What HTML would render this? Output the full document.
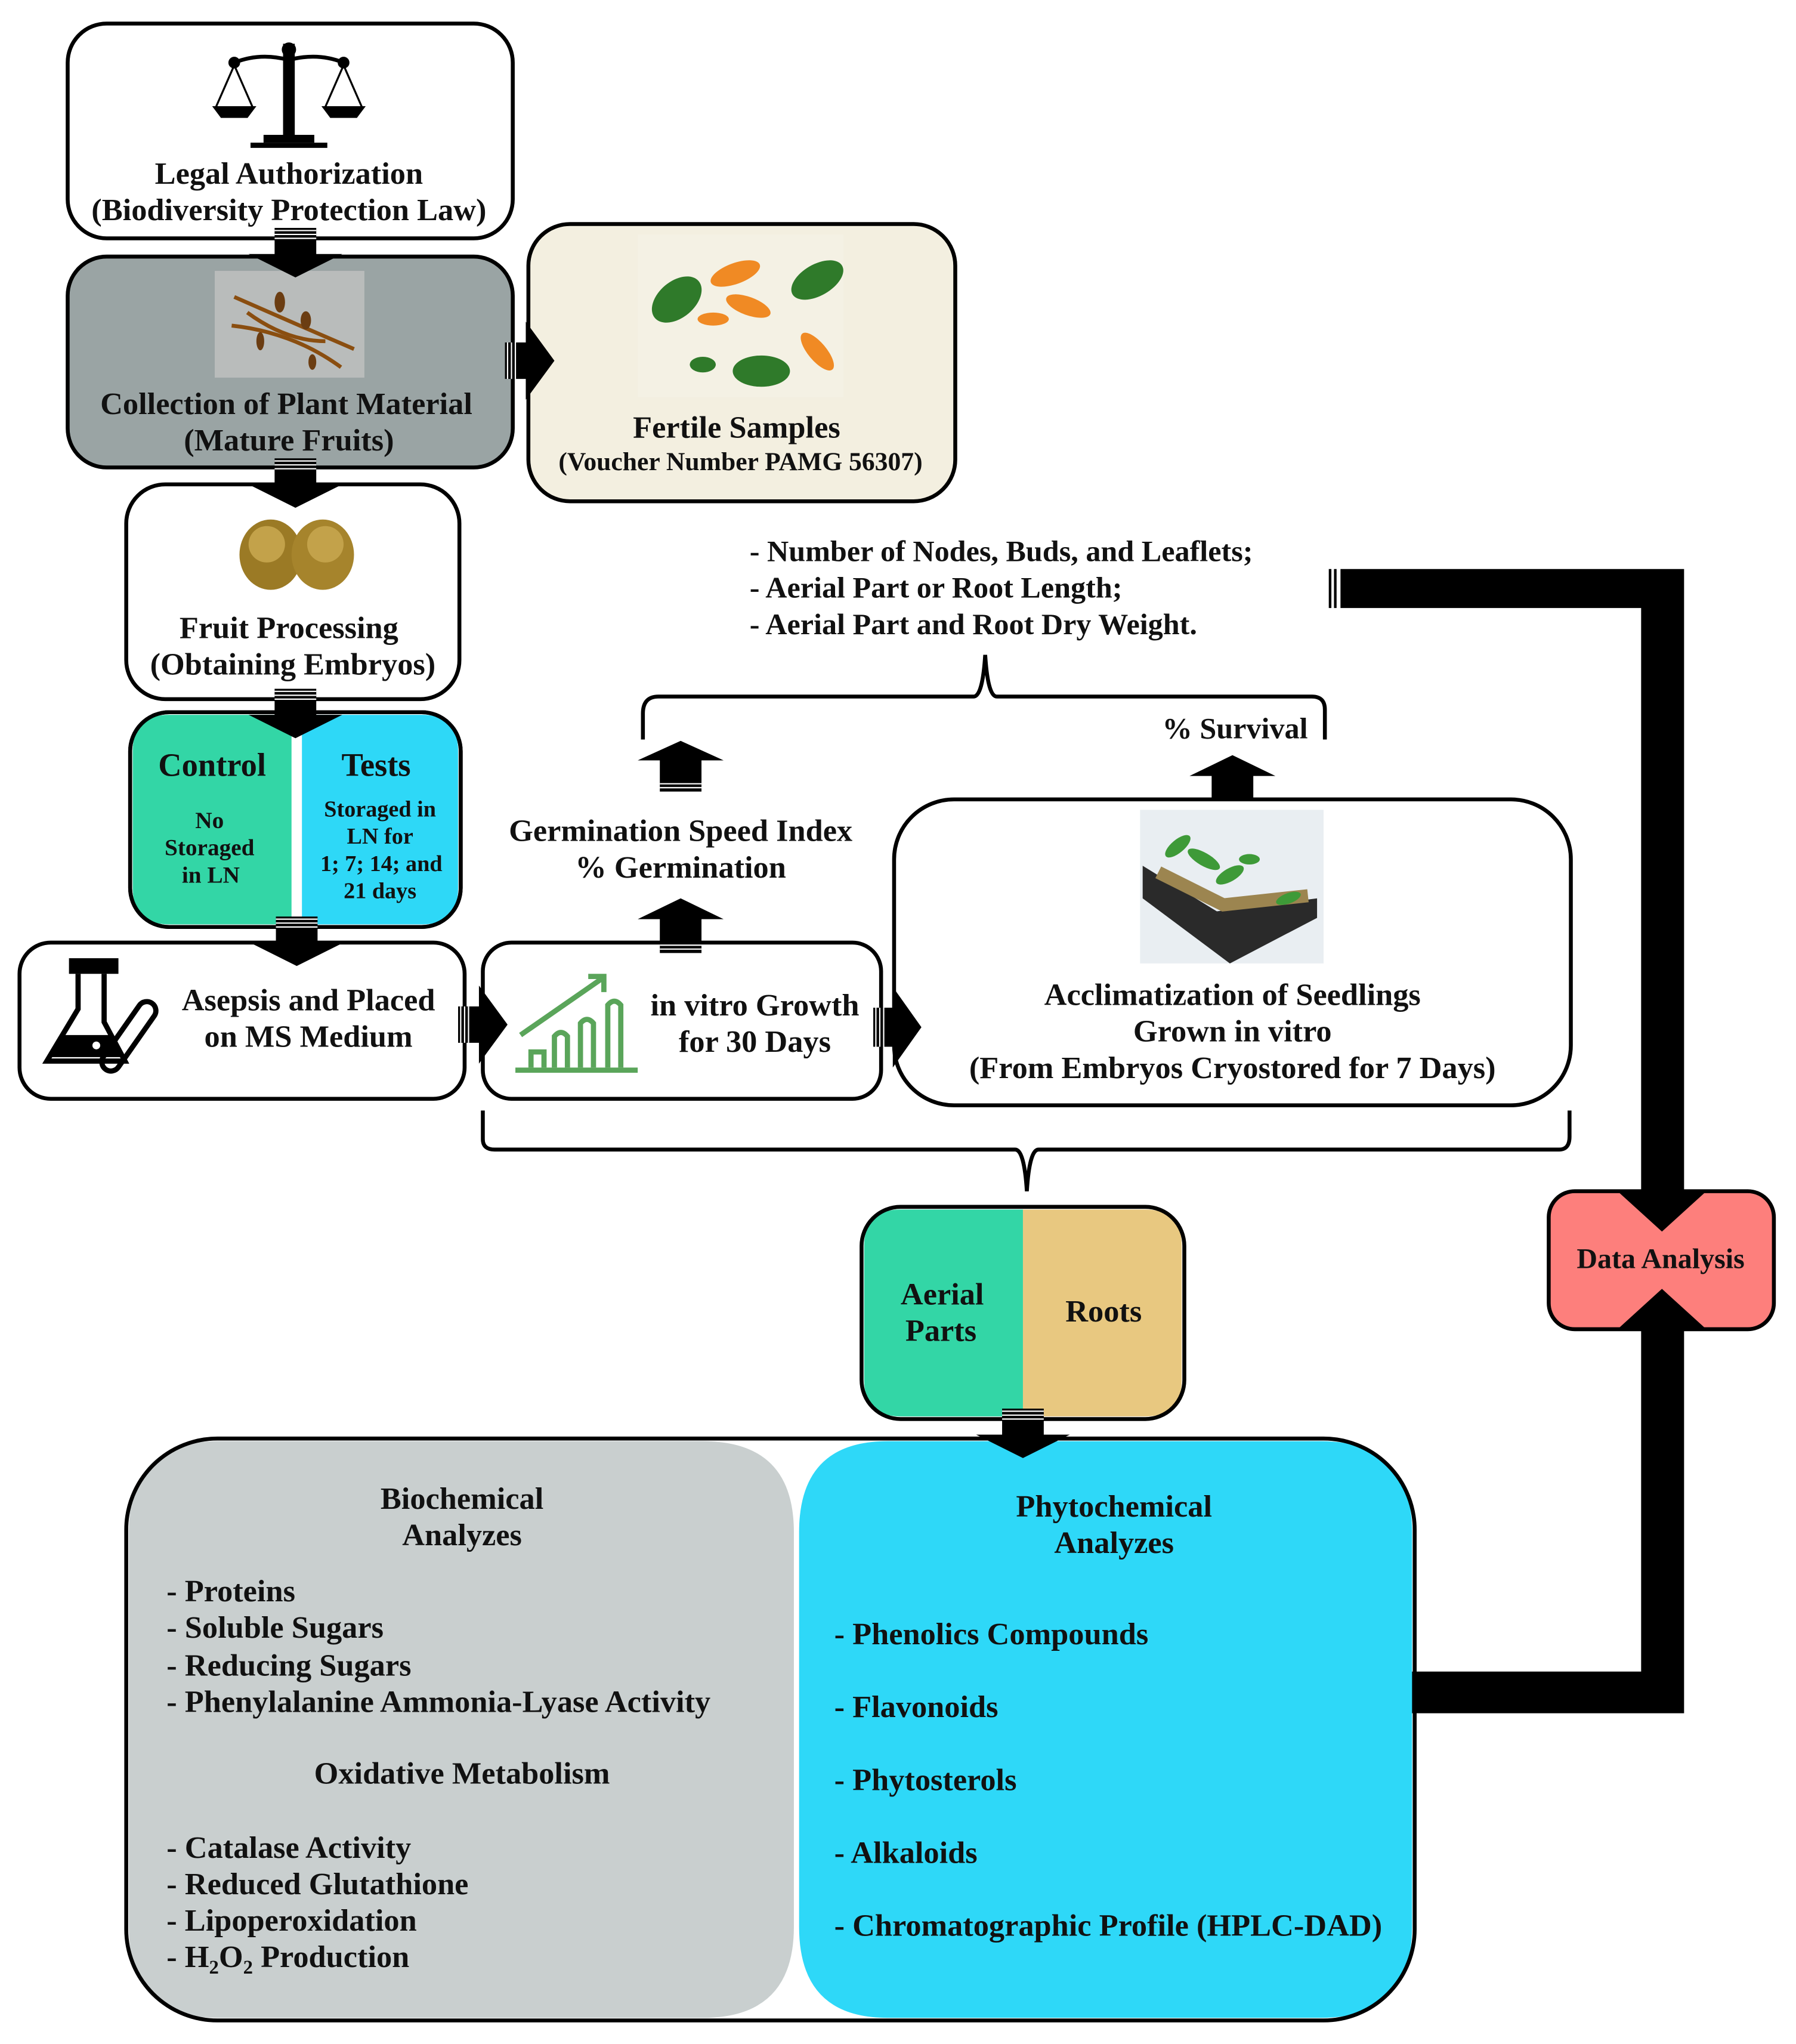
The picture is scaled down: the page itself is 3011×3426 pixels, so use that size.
<!DOCTYPE html>
<html><head><meta charset="utf-8"><style>
html,body{margin:0;padding:0;background:#fff}
svg{display:block}
text{font-family:"Liberation Serif",serif;fill:#111;font-weight:bold}
</style></head><body>
<svg width="3011" height="3426" viewBox="0 0 1380 1570" xmlns="http://www.w3.org/2000/svg">
<defs>
<g id="ad"><path d="M-16 -20 H16 V0 H36 L0 18 L-36 0 H-16 Z" fill="#000"/><path d="M-16 -18 H16 M-16 -15 H16 M-16 -12 H16" stroke="#fff" stroke-width="1"/></g>
</defs>
<rect width="1380" height="1570" fill="#fff"/>

<!-- Legal -->
<rect x="52" y="18" width="342" height="165" rx="30" fill="#fff" stroke="#000" stroke-width="3"/>
<g fill="#000" stroke="#000">
<rect x="218" y="34" width="8" height="72"/><rect x="203" y="104" width="38" height="5"/><rect x="193" y="110" width="58" height="3"/>
<circle cx="222" cy="38" r="5"/>
<path d="M180 48 Q200 40 222 46 Q244 40 264 48" fill="none" stroke-width="3"/>
<circle cx="180" cy="48" r="4"/><circle cx="264" cy="48" r="4"/>
<path d="M180 50 L166 82 M180 50 L194 82 M264 50 L250 82 M264 50 L278 82" stroke-width="1.5" fill="none"/>
<path d="M164 82 H196 L190 90 H170 Z M248 82 H280 L274 90 H254 Z"/>
</g>
<text x="222" y="141" font-size="24" text-anchor="middle">Legal Authorization</text>
<text x="222" y="169" font-size="24" text-anchor="middle">(Biodiversity Protection Law)</text>

<!-- Collection -->
<rect x="52" y="197" width="342" height="162" rx="30" fill="#9aa4a4" stroke="#000" stroke-width="3"/>
<rect x="165" y="208" width="115" height="82" fill="#b9bcbb"/>
<g fill="none" stroke="#8a4e10" stroke-width="3"><path d="M180 228 Q230 250 272 268"/><path d="M178 250 Q225 255 262 282"/><path d="M190 240 Q220 262 250 262"/></g>
<g fill="#6b3d12"><ellipse cx="215" cy="232" rx="4" ry="8"/><ellipse cx="235" cy="246" rx="4" ry="7"/><ellipse cx="200" cy="262" rx="3" ry="7"/><ellipse cx="240" cy="278" rx="3" ry="6"/></g>
<text x="220" y="318" font-size="24" text-anchor="middle">Collection of Plant Material</text>
<text x="222" y="346" font-size="24" text-anchor="middle">(Mature Fruits)</text>

<!-- Fertile -->
<rect x="406" y="172" width="328" height="213" rx="32" fill="#f3efe0" stroke="#000" stroke-width="3"/>
<rect x="490" y="180" width="158" height="125" fill="#f4f1e4"/>
<g fill="#2f7a2a"><ellipse cx="520" cy="230" rx="22" ry="14" transform="rotate(-40 520 230)"/><ellipse cx="628" cy="215" rx="22" ry="12" transform="rotate(-30 628 215)"/><ellipse cx="585" cy="285" rx="22" ry="12"/><ellipse cx="540" cy="280" rx="10" ry="6"/></g>
<g fill="#f08a24"><ellipse cx="565" cy="210" rx="20" ry="8" transform="rotate(-20 565 210)"/><ellipse cx="575" cy="235" rx="18" ry="7" transform="rotate(20 575 235)"/><ellipse cx="628" cy="270" rx="18" ry="7" transform="rotate(50 628 270)"/><ellipse cx="548" cy="245" rx="12" ry="5"/></g>
<text x="566" y="336" font-size="24" text-anchor="middle">Fertile Samples</text>
<text x="569" y="361" font-size="20" text-anchor="middle">(Voucher Number PAMG 56307)</text>

<!-- Fruit processing -->
<rect x="97" y="372" width="256" height="165" rx="30" fill="#fff" stroke="#000" stroke-width="3"/>
<ellipse cx="208" cy="426" rx="24" ry="27" fill="#9b7a25"/><ellipse cx="248" cy="426" rx="24" ry="27" fill="#a6842c"/>
<ellipse cx="205" cy="418" rx="14" ry="14" fill="#c3a24a"/><ellipse cx="250" cy="418" rx="14" ry="14" fill="#c3a24a"/>
<text x="222" y="490" font-size="24" text-anchor="middle">Fruit Processing</text>
<text x="225" y="518" font-size="24" text-anchor="middle">(Obtaining Embryos)</text>

<!-- Control / Tests -->
<rect x="100" y="547" width="254" height="165" rx="30" fill="#fff" stroke="#000" stroke-width="3"/>
<path d="M130 549 H224 V710 H130 Q102 710 102 682 V577 Q102 549 130 549 Z" fill="#33d6a6"/>
<path d="M232 549 H324 Q352 549 352 577 V682 Q352 710 324 710 H232 Z" fill="#2ed8f7"/>
<rect x="100" y="547" width="254" height="165" rx="30" fill="none" stroke="#000" stroke-width="3"/>
<text x="163" y="596" font-size="25" text-anchor="middle">Control</text>
<text x="161" y="636" font-size="18" text-anchor="middle">No</text>
<text x="161" y="657" font-size="18" text-anchor="middle">Storaged</text>
<text x="162" y="678" font-size="18" text-anchor="middle">in LN</text>
<text x="289" y="596" font-size="25" text-anchor="middle">Tests</text>
<text x="292" y="627" font-size="17.5" text-anchor="middle">Storaged in</text>
<text x="292" y="648" font-size="17.5" text-anchor="middle">LN for</text>
<text x="293" y="669" font-size="17.5" text-anchor="middle">1; 7; 14; and</text>
<text x="292" y="690" font-size="17.5" text-anchor="middle">21 days</text>

<!-- Asepsis -->
<rect x="15" y="724" width="342" height="120" rx="24" fill="#fff" stroke="#000" stroke-width="3"/>
<g stroke="#000" stroke-width="4" fill="none">
<rect x="55" y="738" width="34" height="8" fill="#000"/>
<path d="M60 748 V775 L36 815 H96 L80 785 V748"/>
<rect x="92" y="765" width="14" height="62" rx="7" transform="rotate(35 99 796)"/>
</g>
<path d="M48 795 L40 812 H94 L85 795 Z" fill="#000"/>
<circle cx="64" cy="790" r="4" fill="#fff"/><circle cx="74" cy="803" r="3" fill="#fff"/>
<text x="237" y="776" font-size="24" text-anchor="middle">Asepsis and Placed</text>
<text x="237" y="804" font-size="24" text-anchor="middle">on MS Medium</text>

<!-- in vitro -->
<rect x="371" y="724" width="306" height="120" rx="22" fill="#fff" stroke="#000" stroke-width="3"/>
<g stroke="#5aa55a" stroke-width="4" fill="none">
<path d="M396 822 H490"/><path d="M400 795 L462 752"/><path d="M452 750 H464 V762"/>
<path d="M408 820 V808 H418 V820"/><path d="M426 820 V796 Q431 790 436 796 V820"/><path d="M446 820 V786 Q451 780 456 786 V820"/><path d="M467 820 V772 Q472 766 477 772 V820"/>
</g>
<text x="580" y="780" font-size="24" text-anchor="middle">in vitro Growth</text>
<text x="580" y="808" font-size="24" text-anchor="middle">for 30 Days</text>

<!-- up arrows -->
<g fill="#000">
<path d="M507 732 V706 H490 L523 690 L556 706 H539 V732 Z"/>
<path d="M507 608 V584 H490 L523 569 L556 584 H539 V608 Z"/>
<path d="M931 620 V596 H914 L947 580 L980 596 H963 V620 Z"/>
</g>
<g stroke="#fff" stroke-width="1"><path d="M507 726 H539 M507 729 H539 M507 602 H539 M507 605 H539 M931 614 H963 M931 617 H963"/></g>
<text x="523" y="646" font-size="24" text-anchor="middle">Germination Speed Index</text>
<text x="523" y="674" font-size="24" text-anchor="middle">% Germination</text>

<!-- Acclimatization -->
<rect x="687" y="614" width="520" height="235" rx="46" fill="#fff" stroke="#000" stroke-width="3"/>
<rect x="876" y="622" width="141" height="118" fill="#e9eef2"/>
<path d="M878 665 L935 700 L1012 690 L1012 705 L945 740 L878 690 Z" fill="#2a2a2a"/>
<path d="M890 670 L940 695 L1005 688" stroke="#9c8550" stroke-width="10" fill="none"/>
<g fill="#3e9a38"><ellipse cx="905" cy="650" rx="12" ry="5" transform="rotate(-40 905 650)"/><ellipse cx="925" cy="660" rx="14" ry="5" transform="rotate(30 925 660)"/><ellipse cx="945" cy="672" rx="12" ry="5" transform="rotate(-30 945 672)"/><ellipse cx="990" cy="690" rx="10" ry="4" transform="rotate(-20 990 690)"/><ellipse cx="960" cy="660" rx="8" ry="4"/></g>
<text x="947" y="772" font-size="24" text-anchor="middle">Acclimatization of Seedlings</text>
<text x="947" y="800" font-size="24" text-anchor="middle">Grown in vitro</text>
<text x="947" y="828" font-size="24" text-anchor="middle">(From Embryos Cryostored for 7 Days)</text>

<!-- top brace -->
<path d="M494 568 V548 Q494 535 506 535 H748 Q755 535 757 503 Q759 535 766 535 H1008 Q1018 535 1018 545 V568" fill="none" stroke="#000" stroke-width="3"/>
<text x="949" y="567" font-size="23" text-anchor="middle">% Survival</text>
<text x="576" y="431" font-size="23">- Number of Nodes, Buds, and Leaflets;</text>
<text x="576" y="459" font-size="23">- Aerial Part or Root Length;</text>
<text x="576" y="487" font-size="23">- Aerial Part and Root Dry Weight.</text>

<!-- thick connector top -->
<path d="M1030 437 H1294 V915 H1310 L1277 945 L1244 915 H1261 V467 H1030 Z" fill="#000"/>
<path d="M1022 437 V467 M1026 437 V467" stroke="#000" stroke-width="2"/>

<!-- bottom brace -->
<path d="M371 853 V875 Q371 883 380 883 H780 Q787 883 789 915 Q791 883 798 883 H1198 Q1206 883 1206 873 V853" fill="none" stroke="#000" stroke-width="3"/>

<!-- Data analysis -->
<rect x="1190" y="915" width="173" height="106" rx="20" fill="#fd7f7c" stroke="#000" stroke-width="3"/>
<path d="M1244 916 H1310 L1277 946 Z" fill="#000"/>
<path d="M1244 1020 H1310 L1277 990 Z" fill="#000"/>
<text x="1276" y="974" font-size="22" text-anchor="middle">Data Analysis</text>
<path d="M1261 1020 H1294 V1316 H1082 V1284 H1261 Z" fill="#000"/>
<path d="M1074 1284 V1316 M1078 1284 V1316" stroke="#000" stroke-width="2"/>

<!-- Aerial / Roots -->
<path d="M692 929 H786 V1088 H692 Q664 1088 664 1060 V957 Q664 929 692 929 Z" fill="#33d6a6"/>
<path d="M786 929 H880 Q908 929 908 957 V1060 Q908 1088 880 1088 H786 Z" fill="#e8c880"/>
<rect x="662" y="927" width="248" height="163" rx="30" fill="none" stroke="#000" stroke-width="3"/>
<text x="724" y="1002" font-size="24" text-anchor="middle">Aerial</text>
<text x="723" y="1030" font-size="24" text-anchor="middle">Parts</text>
<text x="848" y="1015" font-size="24" text-anchor="middle">Roots</text>

<!-- big box -->
<path d="M167 1107 H540 Q610 1107 610 1177 V1480 Q610 1550 540 1550 H167 Q99 1550 99 1480 V1177 Q99 1107 167 1107 Z" fill="#c9cfcf"/>
<path d="M682 1107 H1015 Q1085 1107 1085 1177 V1480 Q1085 1550 1015 1550 H682 Q614 1550 614 1480 V1177 Q614 1107 682 1107 Z" fill="#2ed8f8"/>
<rect x="97" y="1105" width="990" height="447" rx="70" fill="none" stroke="#000" stroke-width="3"/>
<g font-size="24">
<text x="355" y="1159" text-anchor="middle">Biochemical</text>
<text x="355" y="1187" text-anchor="middle">Analyzes</text>
<text x="128" y="1230">- Proteins</text>
<text x="128" y="1258">- Soluble Sugars</text>
<text x="128" y="1287">- Reducing Sugars</text>
<text x="128" y="1315">- Phenylalanine Ammonia-Lyase Activity</text>
<text x="355" y="1370" text-anchor="middle">Oxidative Metabolism</text>
<text x="128" y="1427">- Catalase Activity</text>
<text x="128" y="1455">- Reduced Glutathione</text>
<text x="128" y="1483">- Lipoperoxidation</text>
<text x="128" y="1511">- H<tspan font-size="15" dy="5">2</tspan><tspan dy="-5">O</tspan><tspan font-size="15" dy="5">2</tspan><tspan dy="-5"> Production</tspan></text>
<text x="856" y="1165" text-anchor="middle">Phytochemical</text>
<text x="856" y="1193" text-anchor="middle">Analyzes</text>
<text x="641" y="1263">- Phenolics Compounds</text>
<text x="641" y="1319">- Flavonoids</text>
<text x="641" y="1375">- Phytosterols</text>
<text x="641" y="1431">- Alkaloids</text>
<text x="641" y="1487">- Chromatographic Profile (HPLC-DAD)</text>
</g>

<!-- arrows on top -->
<use href="#ad" x="227" y="195"/>
<use href="#ad" x="227" y="372"/>
<use href="#ad" x="227" y="549"/>
<use href="#ad" x="228" y="724"/>
<use href="#ad" x="786" y="1102"/>
<path d="M388 263 H404 V247 L426 277 L404 307 V291 H388 Z" fill="#000"/>
<path d="M390 263 V291 M393 263 V291 M396 263 V291" stroke="#fff" stroke-width="1"/>
<path d="M352 773 H368 V757 L390 787 L368 817 V801 H352 Z" fill="#000"/>
<path d="M354 773 V801 M357 773 V801 M360 773 V801" stroke="#fff" stroke-width="1"/>
<path d="M671 774 H686 V758 L708 789 L686 820 V804 H671 Z" fill="#000"/>
<path d="M673 774 V804 M676 774 V804 M679 774 V804" stroke="#fff" stroke-width="1"/>
</svg>
</body></html>
